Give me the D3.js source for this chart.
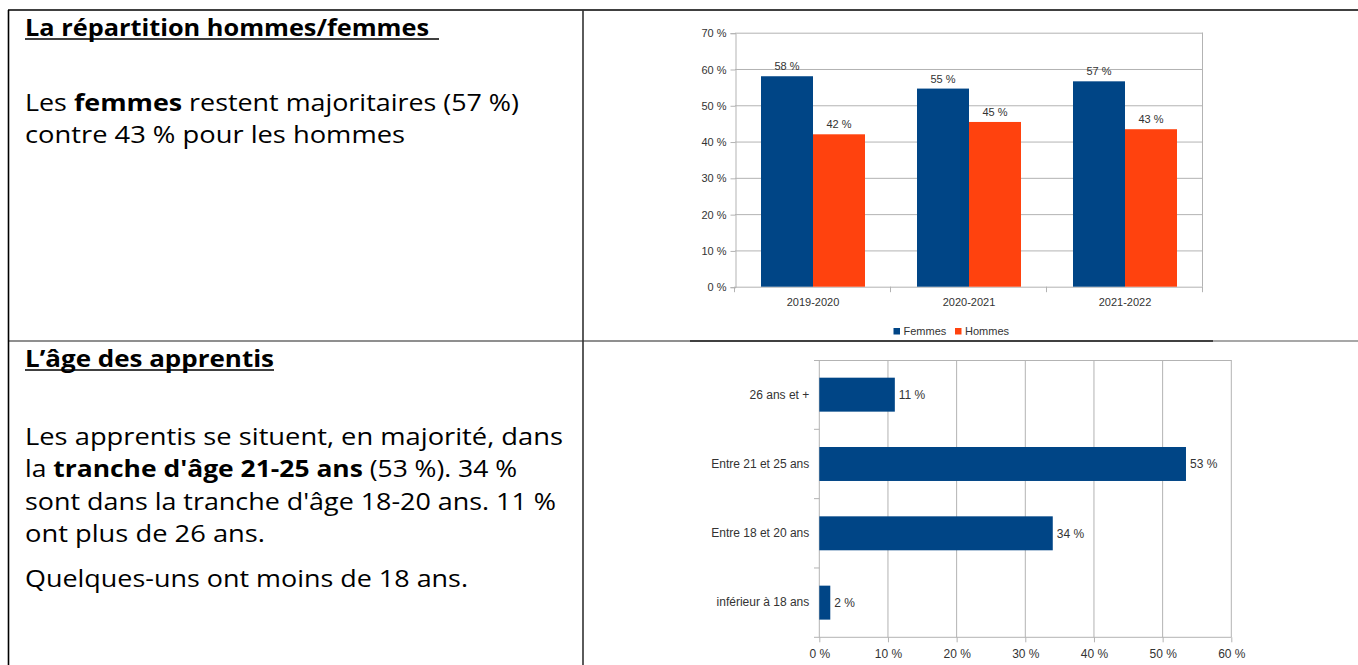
<!DOCTYPE html>
<html>
<head>
<meta charset="utf-8">
<script src="https://cdn.jsdelivr.net/npm/d3@7"></script>
<style>
body { margin: 0; background: #fff; }
svg { display: block; }
.chart text { font-family: "Liberation Sans", Arial, sans-serif; font-size: 11px; fill: #333; }
.chart.age text { font-size: 12px; }
.prose text { font-family: "Open Sans", sans-serif; font-size: 24px; fill: #000; white-space: pre; }
</style>
</head>
<body>
<script>
// --- data ---
var years = ["2019-2020", "2020-2021", "2021-2022"];
var series = ["Femmes", "Hommes"];
var femmes = [58, 54.6, 56.6];
var hommes = [42, 45.4, 43.4];
var femmesLabels = ["58 %", "55 %", "57 %"];
var hommesLabels = ["42 %", "45 %", "43 %"];
var sexeTicks = [0, 10, 20, 30, 40, 50, 60, 70];

var ageGroups = ["26 ans et +", "Entre 21 et 25 ans", "Entre 18 et 20 ans", "inférieur à 18 ans"];
var agePct = [11, 53.4, 34, 1.6];
var ageLabels = ["11 %", "53 %", "34 %", "2 %"];
var ageTicks = [0, 10, 20, 30, 40, 50, 60];

var sexeTitle = "La répartition hommes/femmes";
var sexeText = [
    [["Les ", 0], ["femmes", 1], [" restent majoritaires (57 %)", 0]],
    [["contre 43 % pour les hommes", 0]]
];
var ageTitle = "L’âge des apprentis";
var ageText = [
    [["Les apprentis se situent, en majorité, dans", 0]],
    [["la ", 0], ["tranche d'âge 21-25 ans", 1], [" (53 %). 34 %", 0]],
    [["sont dans la tranche d'âge 18-20 ans. 11 %", 0]],
    [["ont plus de 26 ans.", 0]],
    [["Quelques-uns ont moins de 18 ans.", 0]]
];

var colors = {Femmes: "#004586", Hommes: "#ff420e"};
var grid = "#b3b3b3";

var svg = d3.select("body").append("svg")
        .attr("width", 1358)
        .attr("height", 665);

// --- table frame ---
var frame = svg.append("g").attr("class", "frame").attr("stroke-width", 1.6);
frame.append("line").attr("x1", 8).attr("x2", 1358).attr("y1", 10).attr("y2", 10).attr("stroke", "#000");
frame.append("line").attr("x1", 8).attr("x2", 690).attr("y1", 341).attr("y2", 341).attr("stroke", "#6a6a6a");
frame.append("line").attr("x1", 690).attr("x2", 1213).attr("y1", 341).attr("y2", 341).attr("stroke", "#000");
frame.append("line").attr("x1", 1213).attr("x2", 1358).attr("y1", 341).attr("y2", 341).attr("stroke", "#8a8a8a");
frame.append("line").attr("x1", 8.5).attr("x2", 8.5).attr("y1", 10).attr("y2", 665).attr("stroke", "#000");
frame.append("line").attr("x1", 583).attr("x2", 583).attr("y1", 10).attr("y2", 665).attr("stroke", "#333");

// --- left column prose ---
function prose(title, titleBase, titleWidth, underlineEnd, lines, firstBase, lineGap, widths) {
    var g = svg.append("g").attr("class", "prose");
    g.append("text")
        .attr("x", 25)
        .attr("y", titleBase)
        .attr("font-weight", "bold")
        .attr("textLength", titleWidth)
        .attr("lengthAdjust", "spacingAndGlyphs")
        .text(title);
    g.append("line")
        .attr("x1", 25).attr("x2", underlineEnd)
        .attr("y1", titleBase + 3).attr("y2", titleBase + 3)
        .attr("stroke", "#000").attr("stroke-width", 1.5);
    lines.forEach(function(segs, i) {
        var base = firstBase + lineGap[i];
        var t = g.append("text")
            .attr("x", 25)
            .attr("y", base)
            .attr("textLength", widths[i])
            .attr("lengthAdjust", "spacingAndGlyphs");
        segs.forEach(function(s) {
            t.append("tspan")
                .attr("font-weight", s[1] ? "bold" : "normal")
                .text(s[0]);
        });
    });
}
prose(sexeTitle, 36, 404, 439, sexeText, 111, [0, 32], [494, 380]);
prose(ageTitle, 367, 249, 274, ageText, 445, [0, 32, 64.5, 96.5, 141.5], [538, 492, 531, 240, 443]);

// --- chart 1 : hommes / femmes ---
var c1 = svg.append("g").attr("class", "chart");

var x0 = d3.scaleBand()
        .domain(years)
        .range([735, 1203]);
var x1 = d3.scaleBand()
        .domain(series)
        .range([0, x0.bandwidth()])
        .paddingOuter(0.5);
var y = d3.scaleLinear()
        .domain([0, 70])
        .range([286.7, 32.7]);

c1.append("g")
    .selectAll("line")
    .data(sexeTicks)
    .enter().append("line")
        .attr("x1", 735).attr("x2", 1203)
        .attr("y1", function(d) { return y(d) + 0.5; })
        .attr("y2", function(d) { return y(d) + 0.5; })
        .attr("stroke", grid);
c1.append("line")
    .attr("x1", 1202.5).attr("x2", 1202.5)
    .attr("y1", y(70)).attr("y2", y(0))
    .attr("stroke", grid);

var yAxis = d3.axisLeft(y)
        .tickValues(sexeTicks)
        .tickSize(5)
        .tickPadding(4)
        .tickFormat(function(d) { return d + " %"; });
c1.append("g")
    .attr("transform", "translate(735.5,0.5)")
    .call(yAxis)
    .call(function(g) {
        g.select(".domain").attr("stroke", grid);
        g.selectAll(".tick line").attr("stroke", grid);
        g.selectAll("text").attr("font-family", null).attr("font-size", null).attr("fill", null);
    });

// category separators on the x axis
var bounds = years.map(function(d) { return x0(d); }).concat([x0.range()[1]]);
c1.append("g")
    .selectAll("line")
    .data(bounds)
    .enter().append("line")
        .attr("x1", function(d) { return d - 0.5; })
        .attr("x2", function(d) { return d - 0.5; })
        .attr("y1", y(0)).attr("y2", y(0) + 5.5)
        .attr("stroke", grid);

var xAxis = d3.axisBottom(x0)
        .tickSize(0)
        .tickPadding(12);
c1.append("g")
    .attr("transform", "translate(0," + y(0) + ")")
    .call(xAxis)
    .call(function(g) {
        g.select(".domain").remove();
        g.selectAll("text").attr("font-family", null).attr("font-size", null).attr("fill", null);
    });

var rows = years.map(function(yr, i) {
    return [
        {year: yr, key: "Femmes", value: femmes[i], label: femmesLabels[i]},
        {year: yr, key: "Hommes", value: hommes[i], label: hommesLabels[i]}
    ];
});

var groups = c1.append("g")
    .selectAll("g")
    .data(rows)
    .enter().append("g")
        .attr("transform", function(d) { return "translate(" + x0(d[0].year) + ",0)"; });

groups.selectAll("rect")
    .data(function(d) { return d; })
    .enter().append("rect")
        .attr("x", function(d) { return x1(d.key); })
        .attr("y", function(d) { return y(d.value); })
        .attr("width", x1.bandwidth())
        .attr("height", function(d) { return y(0) - y(d.value); })
        .attr("fill", function(d) { return colors[d.key]; });

groups.selectAll("text")
    .data(function(d) { return d; })
    .enter().append("text")
        .attr("x", function(d) { return x1(d.key) + x1.bandwidth() / 2; })
        .attr("y", function(d) { return y(d.value) - 6; })
        .attr("text-anchor", "middle")
        .text(function(d) { return d.label; });

var legend = c1.append("g")
    .selectAll("g")
    .data(series)
    .enter().append("g")
        .attr("transform", function(d, i) { return "translate(" + (893.5 + i * 61.5) + ",331.5)"; });
legend.append("rect")
    .attr("x", 0).attr("y", -3.5)
    .attr("width", 6.5).attr("height", 6.5)
    .attr("fill", function(d) { return colors[d]; });
legend.append("text")
    .attr("x", 10)
    .attr("dy", "0.35em")
    .text(function(d) { return d; });

// --- chart 2 : age des apprentis ---
var c2 = svg.append("g").attr("class", "chart age");

var xa = d3.scaleLinear()
        .domain([0, 60])
        .range([819.3, 1231.3]);
var ya = d3.scaleBand()
        .domain(ageGroups)
        .range([360, 637.3])
        .paddingInner(0.51)
        .paddingOuter(0.255);

c2.append("g")
    .selectAll("line")
    .data(ageTicks.slice(1))
    .enter().append("line")
        .attr("x1", function(d) { return xa(d); })
        .attr("x2", function(d) { return xa(d); })
        .attr("y1", 360).attr("y2", 637.3)
        .attr("stroke", grid);
c2.append("line")
    .attr("x1", 814).attr("x2", xa(60))
    .attr("y1", 360.5).attr("y2", 360.5)
    .attr("stroke", grid);

var xaAxis = d3.axisBottom(xa)
        .tickValues(ageTicks)
        .tickSize(5)
        .tickPadding(7)
        .tickFormat(function(d) { return d + " %"; });
c2.append("g")
    .attr("transform", "translate(0,637.3)")
    .call(xaAxis)
    .call(function(g) {
        g.select(".domain").remove();
        g.selectAll(".tick line").attr("stroke", grid);
        g.selectAll("text").attr("font-family", null).attr("font-size", null).attr("fill", null);
    });
c2.append("line")
    .attr("x1", 814).attr("x2", xa(60))
    .attr("y1", 637.3).attr("y2", 637.3)
    .attr("stroke", grid);
c2.append("line")
    .attr("x1", xa(0)).attr("x2", xa(0))
    .attr("y1", 360).attr("y2", 637.3)
    .attr("stroke", grid);

var step = ya.step();
c2.append("g")
    .selectAll("line")
    .data(d3.range(1, ageGroups.length))
    .enter().append("line")
        .attr("x1", 814).attr("x2", xa(0))
        .attr("y1", function(i) { return 360 + i * step; })
        .attr("y2", function(i) { return 360 + i * step; })
        .attr("stroke", grid);

var yaAxis = d3.axisLeft(ya)
        .tickSize(0)
        .tickPadding(10);
c2.append("g")
    .attr("transform", "translate(" + xa(0) + ",0)")
    .call(yaAxis)
    .call(function(g) {
        g.select(".domain").remove();
        g.selectAll("text").attr("font-family", null).attr("font-size", null).attr("fill", null);
    });

var ages = ageGroups.map(function(a, i) { return {group: a, value: agePct[i], label: ageLabels[i]}; });

c2.append("g")
    .selectAll("rect")
    .data(ages)
    .enter().append("rect")
        .attr("x", xa(0))
        .attr("y", function(d) { return ya(d.group); })
        .attr("width", function(d) { return xa(d.value) - xa(0); })
        .attr("height", ya.bandwidth())
        .attr("fill", colors.Femmes);

c2.append("g")
    .selectAll("text")
    .data(ages)
    .enter().append("text")
        .attr("x", function(d) { return xa(d.value) + 4; })
        .attr("y", function(d) { return ya(d.group) + ya.bandwidth() / 2; })
        .attr("dy", "0.35em")
        .text(function(d) { return d.label; });
</script>
</body>
</html>
